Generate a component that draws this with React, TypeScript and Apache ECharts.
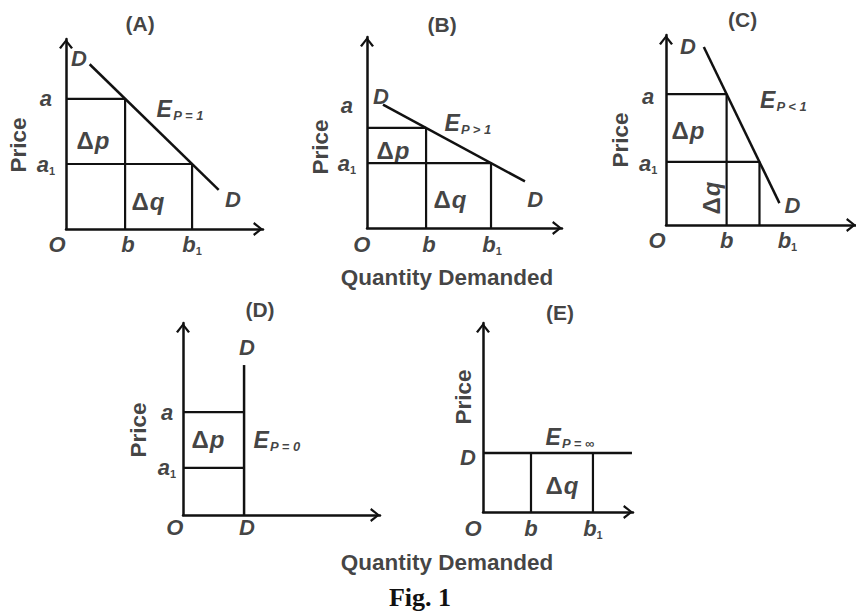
import React, { useEffect, useRef } from 'react';
import * as echarts from 'echarts';

// ---------- data (axis units: every axis spans 0–10) ----------
const panelTitles = ['(A)', '(B)', '(C)', '(D)', '(E)'];
const elasticity = ['P = 1', 'P > 1', 'P < 1', 'P = 0', 'P = ∞'];

// panel A – unit elastic
const priceA = [6.85, 3.42]; // a, a1
const qtyA = [3.0, 6.4]; // b, b1
const demandA = [[1.2, 8.67], [7.75, 2.06]];

// panel B – elastic
const priceB = [5.24, 3.4];
const qtyB = [3.03, 6.36];
const demandB = [[0.82, 6.46], [8.1, 2.44]];

// panel C – inelastic
const priceC = [6.89, 3.32];
const qtyC = [3.19, 4.92];
const demandC = [[1.99, 9.37], [5.97, 1.15]];

// panel D – perfectly inelastic
const priceD = [5.36, 2.45];
const qtyD = 3.1;
const demandD = [[3.1, 0], [3.1, 7.81]];

// panel E – perfectly elastic
const priceE = 3.12;
const qtyE = [3.2, 7.33];
const demandE = [[0, 3.12], [9.93, 3.12]];

// ---------- layout ----------
const INK = '#111111';
const FONT = '"Liberation Sans", Arial, Helvetica, sans-serif';
const grids = [
  { left: 66, top: 39, width: 197, height: 190 },
  { left: 367, top: 37, width: 195, height: 191 },
  { left: 666, top: 35, width: 191, height: 190 },
  { left: 183, top: 323, width: 197, height: 192 },
  { left: 483, top: 323, width: 150, height: 189 },
];

const base = { fontFamily: FONT, color: INK, fontWeight: 'bold' };
const RICH: any = {
  t: { ...base, fontSize: 21, lineHeight: 24 },
  L: { ...base, fontSize: 22, fontStyle: 'italic', lineHeight: 24 },
  s: { ...base, fontSize: 11, lineHeight: 7, verticalAlign: 'bottom' },
  E: { ...base, fontSize: 23, fontStyle: 'italic', lineHeight: 26 },
  es: { ...base, fontSize: 13, fontStyle: 'italic', lineHeight: 9, verticalAlign: 'bottom', padding: [0, 0, 0, 1] },
  d: { ...base, fontSize: 24, lineHeight: 26 },
  p: { ...base, fontSize: 24, fontStyle: 'italic', lineHeight: 26, padding: [0, 0, 0, 1] },
  n: { ...base, fontSize: 22.5, lineHeight: 26 },
};

const L = (t: string) => `{L|${t}}`;
const sub = (t: string, s: string) => `{L|${t}}{s|${s}}`;
const dl = (v: string) => `{d|Δ}{p|${v}}`;
const ep = (i: number) => `{E|E}{es|${elasticity[i]}}`;
const title = (i: number) => `{t|${panelTitles[i]}}`;
const PRICE = '{n|Price}';

type Lab = [string, number, number, number?];

const labelsA: Lab[] = [
  [title(0), 3.76, 10.8], [PRICE, -2.39, 4.42, 90], [L('D'), 0.66, 9.0],
  [L('a'), -1.02, priceA[0]], [sub('a', '1'), -1.02, priceA[1]],
  [dl('p'), 1.37, 4.68], [dl('q'), 4.16, 1.47], [ep(0), 5.79, 6.3],
  [L('D'), 8.48, 1.53], [L('O'), -0.46, -0.84], [L('b'), 3.15, -0.84], [sub('b', '1'), 6.4, -0.84],
];
const labelsB: Lab[] = [
  [title(1), 3.85, 10.63], [PRICE, -2.41, 4.24, 90], [L('D'), 0.72, 6.9],
  [L('a'), -1.03, 6.39], [sub('a', '1'), -1.03, priceB[1]],
  [dl('p'), 1.33, 4.08], [dl('q'), 4.26, 1.47], [ep(1), 5.18, 5.5],
  [L('D'), 8.62, 1.47], [L('O'), -0.26, -0.84], [L('b'), 3.18, -0.84], [sub('b', '1'), 6.41, -0.84],
  ['{n|Quantity Demanded}', 4.1, -2.57],
];
const labelsC: Lab[] = [
  [title(2), 4.03, 10.79], [PRICE, -2.41, 4.47, 90], [L('D'), 1.15, 9.37],
  [L('a'), -0.94, 6.74], [sub('a', '1'), -0.94, 3.26],
  [dl('p'), 1.15, 5.0], [dl('q'), 2.41, 1.42, 90], [ep(2), 6.18, 6.58],
  [L('D'), 6.65, 1.05], [L('O'), -0.47, -0.79], [L('b'), 3.19, -0.79], [sub('b', '1'), 6.39, -0.79],
];
const labelsD: Lab[] = [
  [title(3), 3.91, 10.68], [PRICE, -2.28, 4.43, 90], [L('D'), 3.25, 8.7],
  [L('a'), -0.81, priceD[0]], [sub('a', '1'), -0.81, priceD[1]],
  [dl('p'), 1.27, 3.91], [ep(3), 4.77, 3.91],
  [L('O'), -0.41, -0.63], [L('D'), 3.25, -0.63],
];
const labelsE: Lab[] = [
  [title(4), 5.13, 10.53], [PRICE, -1.33, 6.08, 90], [L('D'), -1.0, 2.86],
  [ep(4), 5.8, 3.97], [dl('q'), 5.27, 1.38],
  [L('O'), -0.67, -0.85], [L('b'), 3.2, -0.85], [sub('b', '1'), 7.33, -0.85],
  ['{n|Quantity Demanded}', -2.4, -2.65],
];

const polylinesA = [
  demandA,
  [[0, priceA[0]], [qtyA[0], priceA[0]], [qtyA[0], 0]],
  [[0, priceA[1]], [qtyA[1], priceA[1]], [qtyA[1], 0]],
];
const polylinesB = [
  demandB,
  [[0, priceB[0]], [qtyB[0], priceB[0]], [qtyB[0], 0]],
  [[0, priceB[1]], [qtyB[1], priceB[1]], [qtyB[1], 0]],
];
const polylinesC = [
  demandC,
  [[0, priceC[0]], [qtyC[0], priceC[0]], [qtyC[0], 0]],
  [[0, priceC[1]], [qtyC[1], priceC[1]], [qtyC[1], 0]],
];
const polylinesD = [
  demandD,
  [[0, priceD[0]], [qtyD, priceD[0]]],
  [[0, priceD[1]], [qtyD, priceD[1]]],
];
const polylinesE = [
  demandE,
  [[qtyE[0], 0], [qtyE[0], priceE]],
  [[qtyE[1], 0], [qtyE[1], priceE]],
];

const ARROW = 'path://M0,8 L6.5,0 L13,8 L11.2,9.2 L6.5,3 L1.8,9.2 Z';

function axis(idx: number) {
  return {
    type: 'value',
    gridIndex: idx,
    min: 0,
    max: 10,
    axisLine: {
      show: true,
      onZero: false,
      lineStyle: { color: INK, width: 2.5 },
      symbol: ['none', ARROW],
      symbolSize: [14, 10],
      symbolOffset: [0, -5],
    },
    axisTick: { show: false },
    axisLabel: { show: false },
    splitLine: { show: false },
  };
}

function panelSeries(idx: number, polys: number[][][], labels: Lab[]) {
  const lines = polys.map((p, k) => ({
    type: 'line',
    xAxisIndex: idx,
    yAxisIndex: idx,
    data: p,
    symbol: 'none',
    clip: false,
    silent: true,
    lineStyle: { color: INK, width: k === 0 ? 2.5 : 2.2 },
  }));
  const text = {
    type: 'scatter',
    xAxisIndex: idx,
    yAxisIndex: idx,
    symbolSize: 1,
    clip: false,
    silent: true,
    itemStyle: { color: 'rgba(0,0,0,0)' },
    label: { show: true, position: 'inside', color: INK, fontFamily: FONT, rich: RICH },
    data: labels.map(([f, x, y, r]) => ({
      value: [x, y],
      label: { formatter: () => f, rotate: r || 0 },
    })),
  };
  return [...lines, text];
}

export default function App() {
  const ref = useRef<HTMLDivElement>(null);
  useEffect(() => {
    if (!ref.current) return;
    const chart = echarts.init(ref.current, undefined, { renderer: 'svg' });
    const panels: [number[][][], Lab[]][] = [
      [polylinesA, labelsA],
      [polylinesB, labelsB],
      [polylinesC, labelsC],
      [polylinesD, labelsD],
      [polylinesE, labelsE],
    ];
    chart.setOption({
      animation: false,
      backgroundColor: '#ffffff',
      grid: grids.map((g) => ({ ...g, containLabel: false })),
      xAxis: grids.map((_, i) => axis(i)),
      yAxis: grids.map((_, i) => axis(i)),
      series: panels.flatMap(([p, l], i) => panelSeries(i, p, l)),
      graphic: [
        {
          type: 'text',
          x: 420,
          y: 597,
          style: {
            text: 'Fig. 1',
            font: 'bold 26px "Liberation Serif", "Times New Roman", serif',
            fill: INK,
            align: 'center',
            verticalAlign: 'middle',
            textAlign: 'center',
            textVerticalAlign: 'middle',
          },
        },
      ],
    });
    return () => chart.dispose();
  }, []);
  return (
    <div
      ref={ref}
      style={{ position: 'fixed', left: 0, top: 0, width: 856, height: 612, background: '#fff' }}
    />
  );
}
